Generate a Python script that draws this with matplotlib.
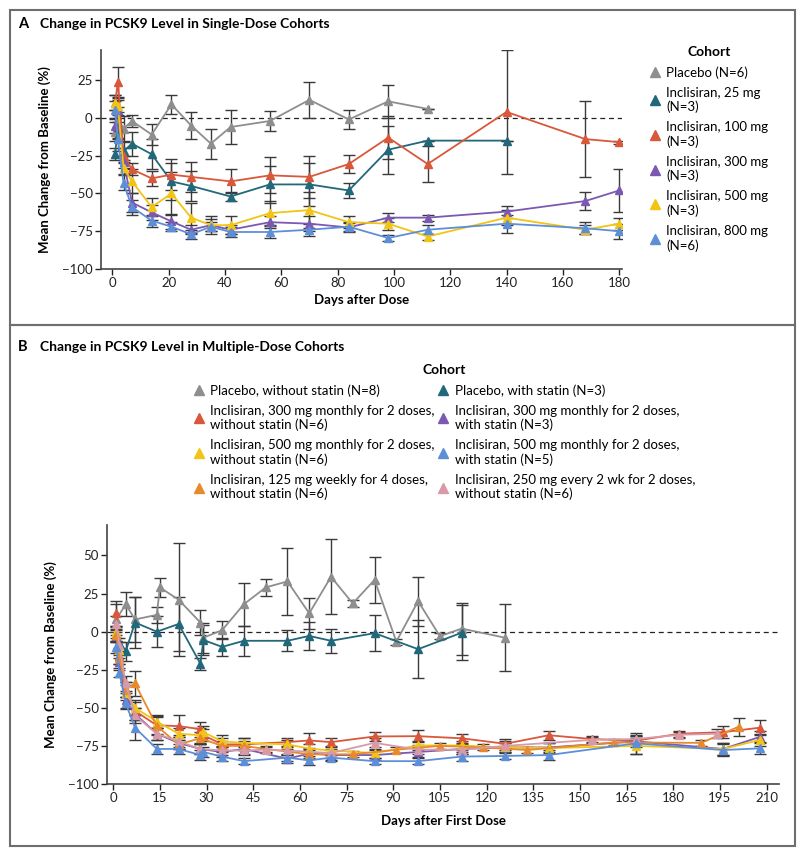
import matplotlib
matplotlib.use("Agg")
import matplotlib.pyplot as plt
from matplotlib.lines import Line2D
from matplotlib.patches import Rectangle

plt.rcParams['font.family'] = ['Lato', 'DejaVu Sans']

# ---- panel A data (single dose) ----
a_gray_days = [1, 2, 4, 7, 14, 21, 28, 35, 42, 56, 70, 84, 98, 112]
a_gray_vals = [-9, -3, -7, -2, -11, 9, -5, -17, -6, -2, 12, -1, 11, 6]
a_gray_err = [6, 10, 8, 4, 7, 6.5, 9, 10, 11, 6.5, 12, 6.5, 11, 0]

a_teal_days = [1, 2, 4, 7, 14, 21, 28, 42, 56, 70, 84, 98, 112, 140]
a_teal_vals = [-24, -6, -22, -17, -24, -42, -45, -52, -44, -44, -48, -21, -15, -15]
a_teal_err = [4, 8, 6, 8, 10, 12, 10, 3, 12, 14, 5, 16, 0, 0]

a_red_days = [1, 2, 4, 7, 14, 21, 28, 42, 56, 70, 84, 98, 112, 140, 168, 180]
a_red_vals = [10, 24, -25, -34, -40, -37.5, -39, -42, -38, -39, -30.5, -13, -30.5, 4, -14, -16]
a_red_err = [5, 10, 5, 4, 5, 10, 10, 8, 12, 14, 6, 14, 12, 41, 25, 1]

a_days = [1, 2, 4, 7, 14, 21, 28, 35, 42, 56, 70, 84, 98, 112, 140, 168, 180]
a_purple_vals = [-5, 5, -29, -56, -62.5, -68.5, -74, -71, -74, -69, -70, -72.5, -66, -66, -62, -55, -48]
a_purple_err = [5, 8, 4, 6, 5, 5, 3, 4, 3, 4, 5, 3, 3, 2, 4, 6, 14]
a_yellow_vals = [10, 8, -33, -42, -59, -50, -66, -71, -71, -63, -61, -69, -70, -78.5, -66, -74, -70]
a_yellow_err = [5, 4, 4, 8, 6, 14, 10, 6, 6, 8, 12, 4, 4, 2, 5, 3, 4]
a_blue_vals = [5, -14, -43, -59, -68, -72, -77, -72, -75.5, -75.5, -74, -72, -79.5, -74, -70, -73, -75]
a_blue_err = [6, 8, 5, 5, 4, 3, 3, 3, 3, 4, 4, 3, 2, 3, 6, 4, 5]

a_labels = ['Placebo (N=6)', 'Inclisiran, 25 mg\n(N=3)', 'Inclisiran, 100 mg\n(N=3)',
            'Inclisiran, 300 mg\n(N=3)', 'Inclisiran, 500 mg\n(N=3)', 'Inclisiran, 800 mg\n(N=6)']

# ---- panel B data (multiple dose) ----
b_gray_days = [1, 4, 7, 14, 15, 21, 28, 29, 35, 42, 49, 56, 63, 70, 77, 84, 91, 98, 105, 112, 126]
b_gray_vals = [8, 18, 8, 11, 29, 21, 6, -4, 1, 18, 29, 33, 12, 36, 18.5, 34, -6.5, 20, -3, 2, -4]
b_gray_err = [10, 8, 15, 5, 6, 37, 8, 10, 6, 14, 5.5, 22, 10, 24.5, 2, 15, 2, 16, 2, 17, 22]

b_teal_days = [1, 4, 7, 14, 21, 28, 29, 35, 42, 56, 63, 70, 84, 98, 112]
b_teal_vals = [-2, -13, 6, 0, 5, -21, -5.5, -10, -6, -6, -2.8, -6, -1, -11.5, -0.7]
b_teal_err = [5, 6, 17, 10, 18, 4, 10, 6, 10, 7, 9, 8, 12, 19, 18]

b_red_days = [1, 2, 4, 7, 14, 21, 28, 29, 35, 42, 56, 63, 70, 84, 98, 112, 126, 140, 154, 168, 182, 196, 208]
b_red_vals = [12, -16, -38, -52, -61.5, -62, -64, -68, -74, -74, -72.5, -71.4, -72.5, -68.8, -68.6, -70,
              -73.6, -68, -70.5, -71.6, -67, -66, -63]
b_red_err = [8, 5, 5, 6, 6, 7, 5, 4, 4, 4, 3, 5, 3, 3, 4, 3, 3, 3, 2, 3, 2, 4, 5]

b_yellow_days = [1, 2, 4, 7, 14, 21, 28, 29, 35, 42, 56, 63, 70, 84, 98, 112, 126, 140, 168, 196, 208]
b_yellow_vals = [0, -12, -40, -50, -59, -67, -68, -66, -72, -73, -74, -76.8, -78, -79.7, -74.7, -74.7,
                 -76, -76.4, -75, -77, -71]
b_yellow_err = [4, 5, 5, 5, 4, 4, 5, 4, 4, 3, 3, 3, 3, 3, 3, 3, 3, 3, 5, 4, 4]

b_orange_days = [1, 2, 4, 7, 14, 21, 28, 35, 42, 49, 63, 77, 91, 105, 119, 133, 161, 189, 201]
b_orange_vals = [-2, -17, -38, -34, -62, -74, -70, -75, -75, -77, -80.5, -80.5, -77.5, -75, -76,
                 -77.7, -72.7, -73, -62.4]
b_orange_err = [4, 4, 5, 8, 6, 3, 4, 3, 3, 2, 3, 2, 2, 2, 2, 2, 2, 2, 6]

b_purple_days = [1, 2, 4, 7, 14, 21, 28, 35, 42, 56, 63, 70, 84, 98, 112, 126, 140, 168, 196, 208]
b_purple_vals = [-3, -20, -45, -54, -67, -73, -77, -79, -77, -83.4, -80, -81, -81, -79, -77, -76,
                 -76, -72, -77, -69]
b_purple_err = [4, 5, 5, 4, 4, 4, 3, 3, 3, 3, 3, 3, 3, 3, 3, 3, 3, 4, 4, 4]

b_blue_days = [1, 2, 4, 7, 14, 21, 28, 29, 35, 42, 56, 63, 70, 84, 98, 112, 126, 140, 168, 196, 208]
b_blue_vals = [-10, -27, -47, -63, -77, -77, -81, -79, -82, -85, -82.7, -84.5, -82.7, -85, -85, -82,
               -81.6, -81, -73.3, -77.7, -76.6]
b_blue_err = [4, 3, 4, 8, 3, 3, 3, 3, 3, 2, 2, 3, 2, 2, 2, 3, 2, 3, 7, 4, 4]

b_pink_days = [1, 2, 4, 7, 14, 21, 28, 35, 42, 49, 56, 70, 84, 98, 112, 126, 154, 168, 182, 194]
b_pink_vals = [5, -9, -34, -55, -67, -72, -77, -78, -78, -77.5, -78, -79.7, -73, -77.5, -77.5, -75,
               -71, -70.5, -67.7, -67]
b_pink_err = [5, 5, 5, 5, 4, 4, 3, 3, 3, 2, 3, 3, 3, 3, 3, 3, 2, 2, 2, 3]

b_labels = ['Placebo, without statin (N=8)',
            'Inclisiran, 300 mg monthly for 2 doses,\nwithout statin (N=6)',
            'Inclisiran, 500 mg monthly for 2 doses,\nwithout statin (N=6)',
            'Inclisiran, 125 mg weekly for 4 doses,\nwithout statin (N=6)',
            'Placebo, with statin (N=3)',
            'Inclisiran, 300 mg monthly for 2 doses,\nwith statin (N=3)',
            'Inclisiran, 500 mg monthly for 2 doses,\nwith statin (N=5)',
            'Inclisiran, 250 mg every 2 wk for 2 doses,\nwithout statin (N=6)']

GRAY = '#8e8e8e'
TEAL = '#21687a'
RED = '#d9573b'
PURPLE = '#7b59b3'
YELLOW = '#f2c414'
BLUE = '#5d8fd8'
ORANGE = '#e8892c'
PINK = '#d89aa9'
ERR = '#3a3a3a'


def series(ax, x, y, e, color):
    ax.errorbar(x, y, yerr=e, fmt='none', ecolor=ERR, elinewidth=1.0, capsize=4, capthick=1.0, zorder=2)
    ax.plot(x, y, '-^', color=color, lw=1.3, ms=6, mec=color, zorder=3)


def style(ax):
    for s in ['top', 'right']:
        ax.spines[s].set_visible(False)
    for s in ['left', 'bottom']:
        ax.spines[s].set_color('#444444')
        ax.spines[s].set_linewidth(1.2)
    ax.tick_params(labelsize=9.5, colors='#222222', length=4, width=1.0, pad=2)


fig = plt.figure(figsize=(8, 8.51), dpi=100)

# panel frames
fig.patches.append(Rectangle((0.0125, 1 - 325 / 851), 0.981, (325 - 10) / 851, transform=fig.transFigure,
                             fill=False, ec='#6e6e6e', lw=1.5))
fig.patches.append(Rectangle((0.0125, 1 - 846 / 851), 0.981, (846 - 325) / 851, transform=fig.transFigure,
                             fill=False, ec='#6e6e6e', lw=1.5))

fig.text(0.022, 1 - 24 / 851, 'A', fontsize=10.5, fontweight='bold', va='center')
fig.text(0.05, 1 - 24 / 851, 'Change in PCSK9 Level in Single-Dose Cohorts', fontsize=10,
         fontweight='bold', va='center')
fig.text(0.022, 1 - 347 / 851, 'B', fontsize=10.5, fontweight='bold', va='center')
fig.text(0.05, 1 - 347 / 851, 'Change in PCSK9 Level in Multiple-Dose Cohorts', fontsize=10,
         fontweight='bold', va='center')

# ---- panel A ----
axA = fig.add_axes([101 / 800, 1 - 269 / 851, 521 / 800, 219 / 851])
style(axA)
axA.axhline(0, color='#222222', ls=(0, (4, 3)), lw=0.9, zorder=1)
series(axA, a_gray_days, a_gray_vals, a_gray_err, GRAY)
series(axA, a_teal_days, a_teal_vals, a_teal_err, TEAL)
series(axA, a_red_days, a_red_vals, a_red_err, RED)
series(axA, a_days, a_purple_vals, a_purple_err, PURPLE)
series(axA, a_days, a_yellow_vals, a_yellow_err, YELLOW)
series(axA, a_days, a_blue_vals, a_blue_err, BLUE)
axA.set_xlim(-4, 181)
axA.set_ylim(-100, 45)
axA.set_xticks(range(0, 181, 20))
axA.set_yticks([-100, -75, -50, -25, 0, 25])
axA.set_xlabel('Days after Dose', fontsize=9.5, fontweight='bold', labelpad=3)
axA.set_ylabel('Mean Change from Baseline (%)', fontsize=9.5, fontweight='bold', labelpad=8)

handlesA = [Line2D([], [], ls='none', marker='^', ms=7, color=c, mec=c)
            for c in [GRAY, TEAL, RED, PURPLE, YELLOW, BLUE]]
legA = fig.legend(handlesA, a_labels, loc='upper left', bbox_to_anchor=(0.805, 1 - 41 / 851),
                  frameon=False, title='Cohort', fontsize=9.5, title_fontsize=10,
                  handlelength=0.8, handletextpad=0.5, labelspacing=0.6, borderaxespad=0)
legA.get_title().set_fontweight('bold')

# ---- panel B ----
axB = fig.add_axes([107 / 800, 1 - 784 / 851, 672 / 800, 259 / 851])
style(axB)
axB.axhline(0, color='#222222', ls=(0, (4, 3)), lw=0.9, zorder=1)
series(axB, b_gray_days, b_gray_vals, b_gray_err, GRAY)
series(axB, b_teal_days, b_teal_vals, b_teal_err, TEAL)
series(axB, b_red_days, b_red_vals, b_red_err, RED)
series(axB, b_purple_days, b_purple_vals, b_purple_err, PURPLE)
series(axB, b_yellow_days, b_yellow_vals, b_yellow_err, YELLOW)
series(axB, b_orange_days, b_orange_vals, b_orange_err, ORANGE)
series(axB, b_pink_days, b_pink_vals, b_pink_err, PINK)
series(axB, b_blue_days, b_blue_vals, b_blue_err, BLUE)
axB.set_xlim(-2, 214)
axB.set_ylim(-100, 70)
axB.set_xticks(range(0, 211, 15))
axB.set_yticks([-100, -75, -50, -25, 0, 25, 50])
axB.set_xlabel('Days after First Dose', fontsize=9.5, fontweight='bold', labelpad=8)
axB.set_ylabel('Mean Change from Baseline (%)', fontsize=9.5, fontweight='bold', labelpad=8)

handlesB = [Line2D([], [], ls='none', marker='^', ms=7, color=c, mec=c)
            for c in [GRAY, RED, YELLOW, ORANGE, TEAL, PURPLE, BLUE, PINK]]
legB = fig.legend(handlesB, b_labels, loc='upper left', bbox_to_anchor=(0.235, 1 - 359 / 851), ncol=2,
                  frameon=False, title='Cohort', fontsize=9.5, title_fontsize=10,
                  handlelength=0.8, handletextpad=0.5, labelspacing=0.6, columnspacing=0.2,
                  borderaxespad=0)
legB.get_title().set_fontweight('bold')

fig.savefig('out.png', dpi=100)
